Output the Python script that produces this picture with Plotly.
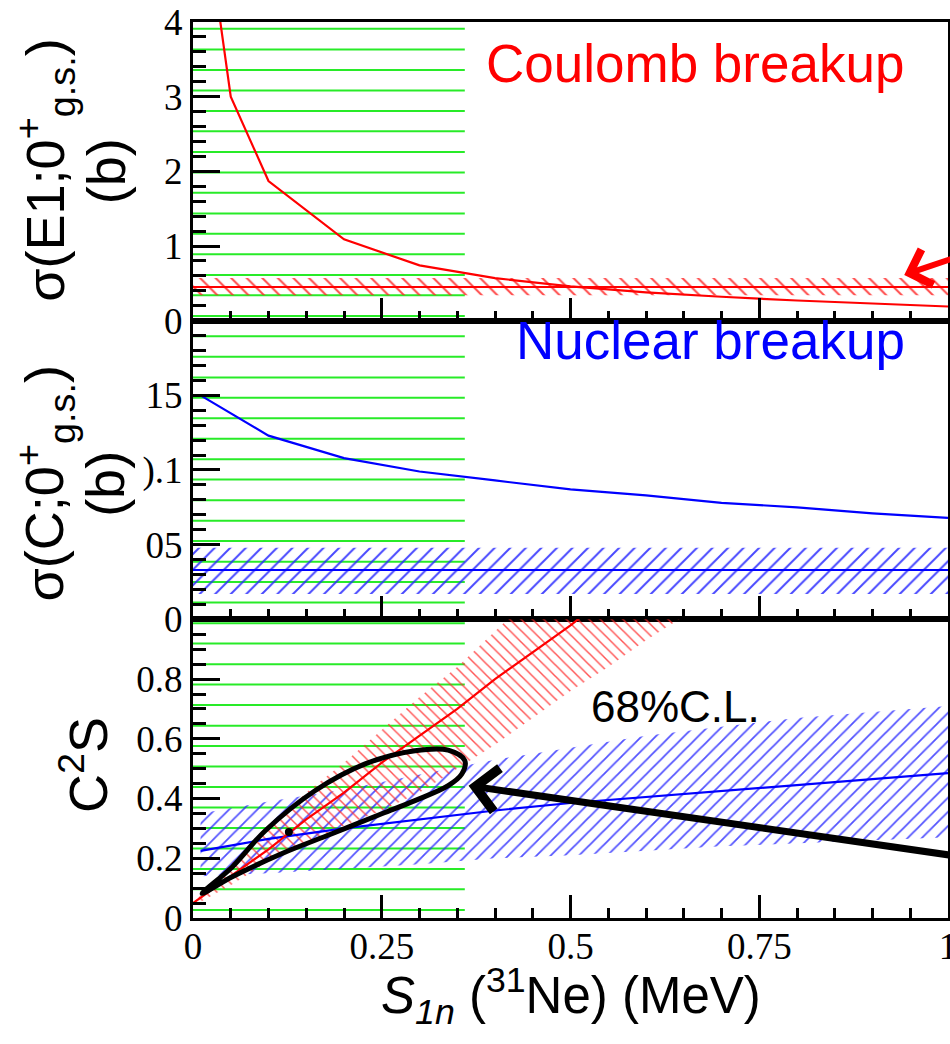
import plotly.graph_objects as go

# ---------------- data ----------------
# top panel: Coulomb breakup cross section (b)
coul_x = [0.03, 0.05, 0.1, 0.2, 0.3, 0.4, 0.5, 0.6, 0.7, 0.8, 0.9, 1.0]
coul_y = [4.45, 3.0, 1.87, 1.09, 0.74, 0.57, 0.46, 0.38, 0.32, 0.27, 0.23, 0.19]
coul_exp_x = [0.0, 1.0]
coul_exp_y = [0.45, 0.45]
coul_exp_lo = [0.34, 0.34]
coul_exp_hi = [0.57, 0.57]

# middle panel: nuclear breakup cross section (b)
nuc_x = [0.01, 0.1, 0.2, 0.3, 0.4, 0.5, 0.6, 0.7, 0.8, 0.9, 1.0]
nuc_y = [0.150, 0.123, 0.108, 0.099, 0.093, 0.087, 0.083, 0.078, 0.075, 0.071, 0.068]
nuc_exp_x = [0.0, 1.0]
nuc_exp_y = [0.033, 0.033]
nuc_exp_lo = [0.017, 0.017]
nuc_exp_hi = [0.048, 0.048]

# bottom panel: spectroscopic factor C2S
c2s_coul_x = [0.0, 0.05, 0.1, 0.15, 0.2, 0.25, 0.3, 0.35, 0.4, 0.45, 0.5, 0.55]
c2s_coul_y = [0.05, 0.14, 0.23, 0.33, 0.42, 0.52, 0.61, 0.70, 0.80, 0.89, 0.98, 1.08]
c2s_coul_hi_x = [0.0, 0.05, 0.1, 0.15, 0.2, 0.25, 0.3, 0.35, 0.4, 0.45]
c2s_coul_hi = [0.05, 0.18, 0.30, 0.42, 0.52, 0.63, 0.74, 0.84, 0.96, 1.08]
c2s_coul_lo_x = [0.0, 0.05, 0.1, 0.15, 0.2, 0.25, 0.3, 0.35, 0.4, 0.45, 0.5, 0.55, 0.6, 0.65]
c2s_coul_lo = [0.04, 0.11, 0.19, 0.25, 0.31, 0.36, 0.42, 0.50, 0.58, 0.67, 0.76, 0.84, 0.93, 1.01]

c2s_nuc_x = [0.01, 0.1, 0.2, 0.3, 0.4, 0.5, 0.6, 0.7, 0.8, 0.9, 1.0]
c2s_nuc_y = [0.225, 0.265, 0.30, 0.33, 0.36, 0.385, 0.405, 0.425, 0.445, 0.465, 0.485]
c2s_nuc_hi = [0.35, 0.39, 0.43, 0.48, 0.53, 0.57, 0.61, 0.64, 0.67, 0.69, 0.71]
c2s_nuc_lo = [0.14, 0.15, 0.165, 0.18, 0.20, 0.21, 0.225, 0.24, 0.25, 0.26, 0.27]

# 68% C.L. contour
cl_x = [0.012, 0.052, 0.096, 0.162, 0.228, 0.294, 0.338, 0.360, 0.356, 0.338,
        0.294, 0.25, 0.184, 0.118, 0.052, 0.012]
cl_y = [0.082, 0.171, 0.293, 0.427, 0.516, 0.56, 0.562, 0.527, 0.482, 0.443,
        0.393, 0.349, 0.282, 0.216, 0.138, 0.082]
best_x = [0.127]
best_y = [0.288]

# green horizontal lines (full-height scale: 0 = bottom, 3 = top)
green_x_end = 0.36
green_y = [0.027, 0.096, 0.164, 0.233, 0.301, 0.370, 0.439, 0.507, 0.576, 0.644,
           0.713, 0.782, 0.850, 0.919, 0.987, 1.056, 1.125, 1.193, 1.262, 1.330,
           1.399, 1.468, 1.536, 1.605, 1.673, 1.742, 1.810, 1.879, 1.948, 2.016,
           2.085, 2.153, 2.222, 2.291, 2.359, 2.428, 2.496, 2.565, 2.634, 2.702,
           2.771, 2.839, 2.908, 2.977]

# tick labels
x_tickvals = [0, 0.25, 0.5, 0.75, 1]
x_ticktext = ["0", "0.25", "0.5", "0.75", "1"]
top_tickvals = [0, 1, 2, 3, 4]
top_ticktext = ["0", "1", "2", "3", "4"]
mid_tickvals = [0, 0.05, 0.1, 0.15]
mid_ticktext = ["0", "05", ").1", "15"]
bot_tickvals = [0, 0.2, 0.4, 0.6, 0.8]
bot_ticktext = ["0", "0.2", "0.4", "0.6", "0.8"]

# arrows (tip, tail)
black_arrow = dict(x=0.365, y=0.443, ax=1.015, ay=0.206)
red_arrow = dict(x=0.942, y=0.613, ax=1.024, ay=0.893)

# ---------------- figure ----------------
RED = "#ff0000"
BLUE = "#0000ff"
fig = go.Figure()

# green lines (subplot x/y covering whole plot area, drawn first)
gx, gy = [], []
for v in green_y:
    gx += [0, green_x_end, None]
    gy += [v, v, None]
fig.add_trace(go.Scatter(x=gx, y=gy, mode="lines", xaxis="x", yaxis="y",
                         line=dict(color="rgb(40,235,40)", width=2), hoverinfo="skip"))


def band(x_hi, hi, x_lo, lo, xa, ya, shape, color, size):
    return go.Scatter(
        x=list(x_hi) + list(x_lo)[::-1], y=list(hi) + list(lo)[::-1],
        xaxis=xa, yaxis=ya, mode="lines", line=dict(width=0),
        fill="toself", fillcolor="rgba(0,0,0,0)",
        fillpattern=dict(shape=shape, fgcolor=color, bgcolor="rgba(0,0,0,0)",
                         size=size, solidity=0.18, fillmode="replace"),
        hoverinfo="skip")


# top panel
fig.add_trace(band(coul_exp_x, coul_exp_hi, coul_exp_x, coul_exp_lo, "x2", "y2",
                   "\\", "rgba(255,40,40,0.85)", 11))
fig.add_trace(go.Scatter(x=coul_exp_x, y=coul_exp_y, xaxis="x2", yaxis="y2", mode="lines",
                         line=dict(color=RED, width=2)))
fig.add_trace(go.Scatter(x=coul_x, y=coul_y, xaxis="x2", yaxis="y2", mode="lines",
                         line=dict(color=RED, width=2.2)))

# middle panel
fig.add_trace(band(nuc_exp_x, nuc_exp_hi, nuc_exp_x, nuc_exp_lo, "x3", "y3",
                   "/", "rgba(40,40,255,0.85)", 11))
fig.add_trace(go.Scatter(x=nuc_exp_x, y=nuc_exp_y, xaxis="x3", yaxis="y3", mode="lines",
                         line=dict(color=BLUE, width=2)))
fig.add_trace(go.Scatter(x=nuc_x, y=nuc_y, xaxis="x3", yaxis="y3", mode="lines",
                         line=dict(color=BLUE, width=2.2)))

# bottom panel
fig.add_trace(band(c2s_nuc_x, c2s_nuc_hi, c2s_nuc_x, c2s_nuc_lo, "x4", "y4",
                   "/", "rgba(40,40,255,0.8)", 10))
fig.add_trace(band(c2s_coul_hi_x, c2s_coul_hi, c2s_coul_lo_x, c2s_coul_lo, "x4", "y4",
                   "\\", "rgba(255,40,40,0.8)", 8))
fig.add_trace(go.Scatter(x=c2s_nuc_x, y=c2s_nuc_y, xaxis="x4", yaxis="y4", mode="lines",
                         line=dict(color=BLUE, width=2.2)))
fig.add_trace(go.Scatter(x=c2s_coul_x, y=c2s_coul_y, xaxis="x4", yaxis="y4", mode="lines",
                         line=dict(color=RED, width=2.2)))
fig.add_trace(go.Scatter(x=cl_x, y=cl_y, xaxis="x4", yaxis="y4", mode="lines",
                         line=dict(color="black", width=5, shape="spline", smoothing=1)))
fig.add_trace(go.Scatter(x=best_x, y=best_y, xaxis="x4", yaxis="y4", mode="markers",
                         marker=dict(color="black", size=8)))

tickfont = dict(family="Liberation Serif", size=37, color="black")


def xax(anchor, labels):
    return dict(anchor=anchor, domain=[0, 1], range=[0, 1], showline=True, mirror=True,
                linecolor="black", linewidth=3, ticks="inside", ticklen=23, tickwidth=2.5,
                tickcolor="black", tickvals=x_tickvals, ticktext=x_ticktext,
                showticklabels=labels, tickfont=tickfont, showgrid=False, zeroline=False,
                ticklabelstandoff=-6, ticklabeloverflow="allow",
                minor=dict(ticks="inside", ticklen=10, tickwidth=2.5, tickcolor="black",
                           dtick=0.05, showgrid=False))


def yax(anchor, dom, rng, tv, tt, mdt):
    return dict(anchor=anchor, domain=dom, range=rng, showline=True, mirror=True,
                linecolor="black", linewidth=3, ticks="inside", ticklen=27, tickwidth=2.5,
                tickcolor="black", tickvals=tv, ticktext=tt, tickfont=tickfont,
                showgrid=False, zeroline=False, ticklabeloverflow="allow",
                minor=dict(ticks="inside", ticklen=13, tickwidth=2.5, tickcolor="black",
                           dtick=mdt, showgrid=False))


sans = "Liberation Sans"


def rot(text, x, y):
    return dict(text=text, x=x, y=y, xref="paper", yref="paper", textangle=-90,
                xanchor="center", yanchor="middle", showarrow=False,
                font=dict(family=sans, size=54, color="black"))


annotations = [
    dict(text="Coulomb breakup", x=0.665, y=3.44, xref="x2", yref="y2", showarrow=False,
         xanchor="center", yanchor="middle", font=dict(family=sans, size=53, color=RED)),
    dict(text="Nuclear breakup", x=0.685, y=0.187, xref="x3", yref="y3", showarrow=False,
         xanchor="center", yanchor="middle", font=dict(family=sans, size=53, color=BLUE)),
    dict(text="68%C.L.", x=0.639, y=0.707, xref="x4", yref="y4", showarrow=False,
         xanchor="center", yanchor="middle", font=dict(family=sans, size=44, color="black")),
    # y titles
    rot("σ(E1;0<sup>+</sup><sub>g.s.</sub>)", -0.196, 0.834),
    rot("(b)", -0.116, 0.834),
    rot("σ(C;0<sup>+</sup><sub>g.s.</sub>)", -0.196, 0.485),
    rot("(b)", -0.116, 0.485),
    rot("C<sup>2</sup>S", -0.144, 0.171),
    dict(text="<i>S</i><sub><i>1n</i></sub> (<sup>31</sup>Ne) (MeV)", x=0.5, y=-0.087,
         xref="paper", yref="paper", xanchor="center", yanchor="middle", showarrow=False,
         font=dict(family=sans, size=51, color="black")),
    # arrows
    dict(text="", xref="x4", yref="y4", axref="x4", ayref="y4", showarrow=True,
         arrowhead=4, arrowsize=1.2, arrowwidth=7, arrowcolor="black", standoff=0,
         **black_arrow),
    dict(text="", xref="x2", yref="y2", axref="x2", ayref="y2", showarrow=True,
         arrowhead=4, arrowsize=1.2, arrowwidth=6, arrowcolor=RED, standoff=0,
         **red_arrow),
]

fig.update_layout(
    width=959, height=1044, autosize=False,
    margin=dict(l=193, r=2, t=19, b=126),
    paper_bgcolor="white", plot_bgcolor="rgba(0,0,0,0)",
    showlegend=False,
    font=dict(family=sans, color="black"),
    xaxis=dict(domain=[0, 1], range=[0, 1], anchor="y", visible=False),
    yaxis=dict(domain=[0, 1], range=[0, 3], anchor="x", visible=False),
    xaxis2=xax("y2", False),
    yaxis2=yax("x2", [2 / 3, 1], [0, 4], top_tickvals, top_ticktext, 0.2),
    xaxis3=xax("y3", False),
    yaxis3=yax("x3", [1 / 3, 2 / 3], [0, 0.2], mid_tickvals, mid_ticktext, 0.01),
    xaxis4=xax("y4", True),
    yaxis4=yax("x4", [0, 1 / 3], [0, 1], bot_tickvals, bot_ticktext, 0.05),
    annotations=annotations,
)

fig.write_html("out.html", config={"displayModeBar": False, "responsive": False},
               post_script="document.body.style.margin='0';document.body.style.overflow='hidden';")
